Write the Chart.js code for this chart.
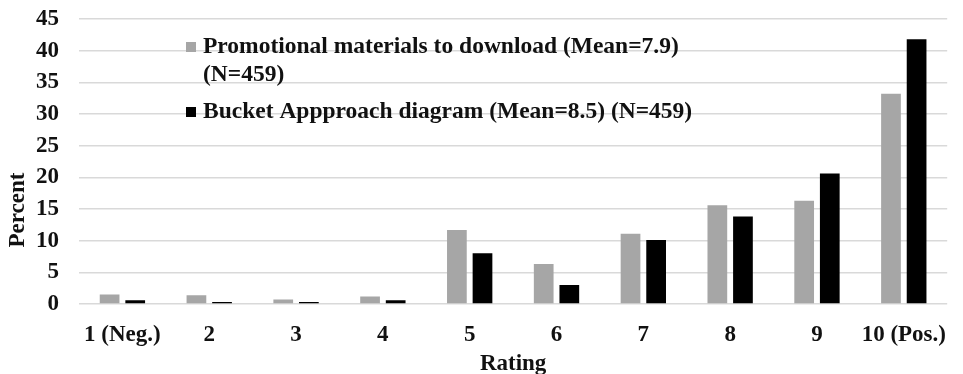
<!DOCTYPE html>
<html>
<head>
<meta charset="utf-8">
<script src="https://cdn.jsdelivr.net/npm/chart.js@4/dist/chart.umd.min.js"></script>
<style>
  html, body { margin: 0; padding: 0; background: #fff; }
  #wrap { width: 963px; height: 374px; position: relative; }
</style>
</head>
<body>
<div id="wrap"><canvas id="c" width="963" height="374"></canvas></div>
<script>
const categories = ['1 (Neg.)', '2', '3', '4', '5', '6', '7', '8', '9', '10 (Pos.)'];
const promoValues = [1.5, 1.4, 0.7, 1.2, 11.7, 6.3, 11.1, 15.6, 16.3, 33.2];
const bucketValues = [0.6, 0.3, 0.3, 0.6, 8.0, 3.0, 10.1, 13.8, 20.6, 41.8];
const promoLegend = ['Promotional materials to download (Mean=7.9)', '(N=459)'];
const bucketLegend = ['Bucket Appproach diagram (Mean=8.5) (N=459)'];
const yTicks = [0, 5, 10, 15, 20, 25, 30, 35, 40, 45];
const xTitle = 'Rating';
const yTitle = 'Percent';

const FONT = '"Liberation Serif", "Times New Roman", serif';
const TEXT = '#111111';
const legendSets = [promoLegend, bucketLegend];

const customText = {
  id: 'customText',
  afterDraw(chart) {
    const ctx = chart.ctx;
    const a = chart.chartArea;
    ctx.save();
    ctx.font = 'bold 23.5px ' + FONT;
    ctx.textBaseline = 'middle';
    ctx.textAlign = 'left';
    const entryY = [a.top + 28, a.top + 93];
    chart.data.datasets.forEach((ds, i) => {
      const y0 = entryY[i];
      ctx.fillStyle = ds.backgroundColor;
      ctx.fillRect(a.left + 107, y0 - 5, 10, 10);
      ctx.fillStyle = TEXT;
      legendSets[i].forEach((t, j) => ctx.fillText(t, a.left + 124, y0 + j * 28));
    });
    // y axis title
    ctx.font = 'bold 23px ' + FONT;
    ctx.translate(18, a.bottom - 94);
    ctx.rotate(-Math.PI / 2);
    ctx.textAlign = 'center';
    ctx.fillText(yTitle, 0, 0);
    ctx.restore();
  }
};

new Chart(document.getElementById('c'), {
  type: 'bar',
  data: {
    labels: categories,
    datasets: [
      { label: promoLegend.join(' '), data: promoValues, backgroundColor: '#a6a6a6',
        categoryPercentage: 0.59, barPercentage: 0.77 },
      { label: bucketLegend.join(' '), data: bucketValues, backgroundColor: '#000000',
        categoryPercentage: 0.59, barPercentage: 0.77 }
    ]
  },
  options: {
    responsive: false,
    animation: false,
    layout: { padding: { top: 0, right: 1, bottom: 0, left: 0 } },
    plugins: {
      legend: { display: false },
      tooltip: { enabled: false }
    },
    scales: {
      x: {
        afterFit: s => { s.height = 70; },
        grid: { display: false, drawTicks: false },
        border: { display: false },
        ticks: { color: TEXT, padding: 17, autoSkip: false, maxRotation: 0,
                 font: { family: FONT, size: 23, weight: 'bold' } },
        title: { display: true, text: xTitle, color: TEXT, padding: { top: 0, bottom: -4 },
                 font: { family: FONT, size: 23, weight: 'bold' } }
      },
      y: {
        min: 0, max: 45,
        afterBuildTicks: s => { s.ticks = yTicks.map(v => ({ value: v })); },
        afterFit: s => { s.width = 79; s.paddingTop = 19; s.paddingBottom = 0; },
        grid: { color: '#d9d9d9', lineWidth: 1.5, drawTicks: false },
        border: { display: false },
        ticks: { color: TEXT, padding: 20, autoSkip: false,
                 font: { family: FONT, size: 23, weight: 'bold' } }
      }
    }
  },
  plugins: [customText]
});
</script>
</body>
</html>
